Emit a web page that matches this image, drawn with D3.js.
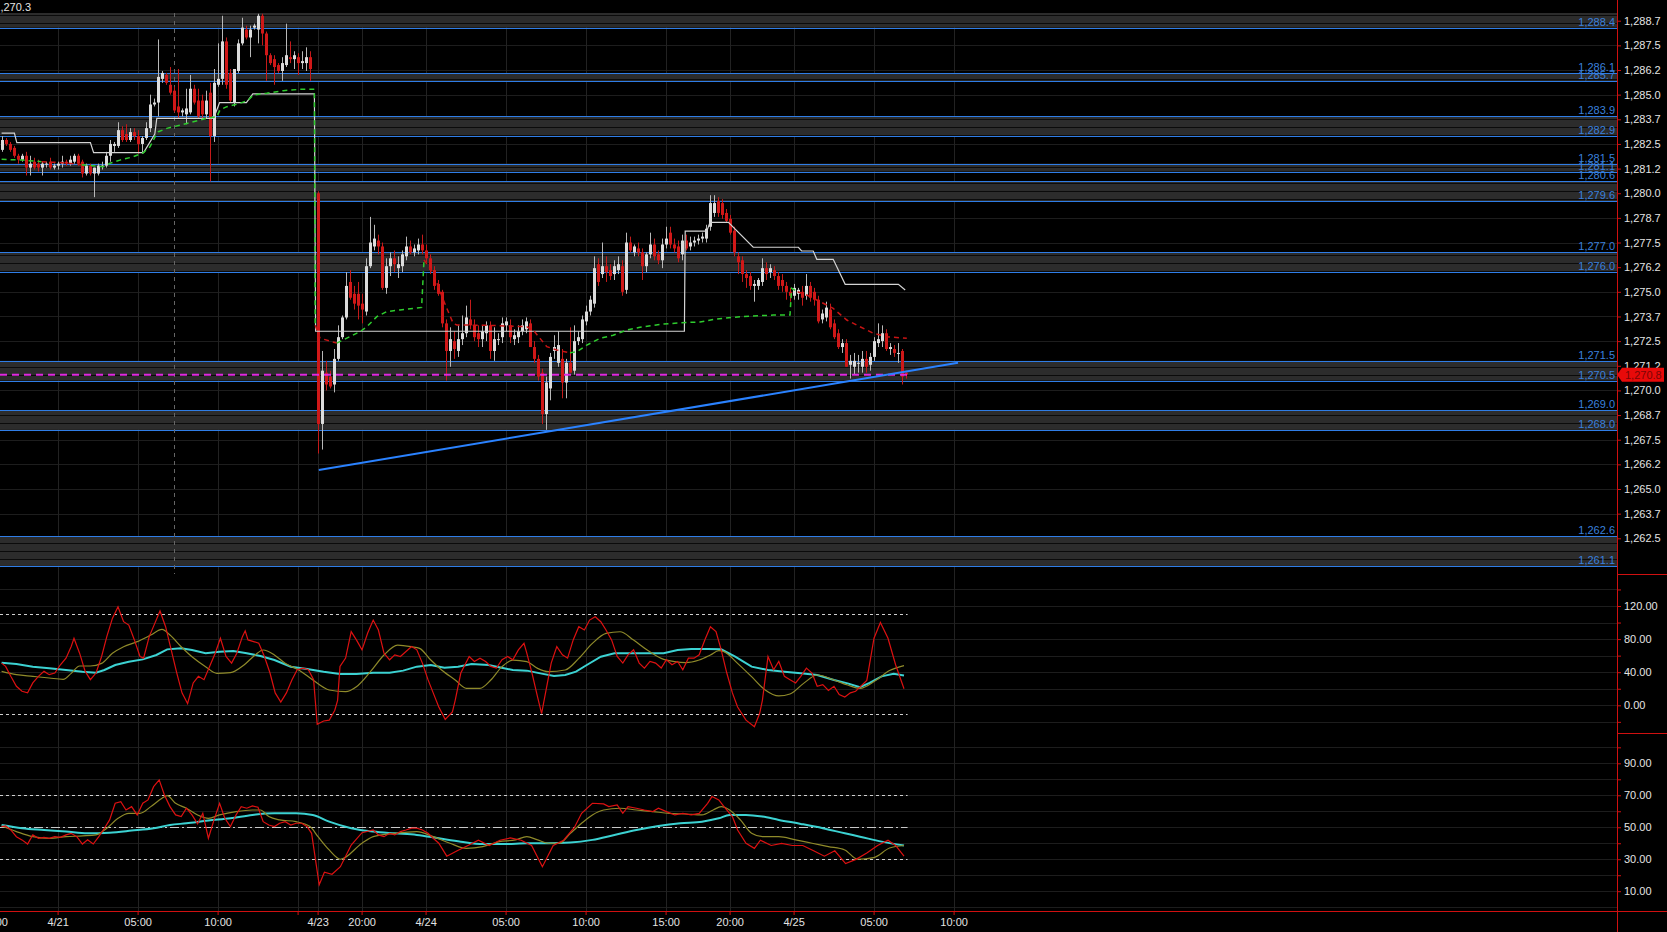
<!DOCTYPE html>
<html>
<head>
<meta charset="utf-8">
<script src="https://cdn.jsdelivr.net/npm/d3@7"></script>
<style>
  body { margin: 0; background: #000; overflow: hidden; }
  text { font-family: "Liberation Sans", Arial, sans-serif; font-size: 11px; }
</style>
</head>
<body>
<svg id="chart"></svg>
<script>
// ---- data ----
// bars are 15 minutes, placed on a slot index (sessions leave gaps)
var sessionStart = [0, 79, 171];
var sessionBars = [78, 92, 56];

var opens = [
  1282.2,1282.7,1282.5,1282.3,1281.9,1281.7,1281.9,1281.3,1281.6,1281.5,
  1281.3,1281.5,1281.6,1281.3,1281.4,1281.5,1281.6,1281.5,1281.6,1281.9,
  1281.6,1281.0,1281.4,1281.0,1281.0,1281.4,1281.4,1281.9,1282.4,1282.4,
  1283.2,1283.0,1282.7,1283.1,1282.9,1282.5,1282.8,1283.3,1284.5,1284.6,
  1285.8,1286.0,1285.5,1285.2,1284.4,1284.1,1284.0,1284.1,1285.3,1284.7,
  1284.7,1284.0,1285.1,1282.9,1285.5,1285.8,1287.7,1286.1,1284.6,1286.2,
  1287.6,1288.3,1287.9,1288.4,1288.3,1289.0,1288.1,1287.0,1286.8,1286.5,
  1286.2,1286.5,1286.9,1286.8,1286.9,1286.6,1286.6,1286.9,
  1280.0,1268.3,1270.9,1270.7,1270.3,1271.6,1272.7,1273.7,1275.5,1274.9,
  1274.9,1274.4,1274.0,1276.3,1277.3,1277.6,1277.3,1275.2,1276.3,1276.7,
  1276.2,1276.3,1276.8,1277.3,1277.0,1277.1,1277.4,1277.1,1276.7,1276.1,
  1275.4,1275.0,1273.4,1272.0,1272.5,1272.0,1272.6,1272.9,1273.6,1273.3,
  1272.9,1272.6,1272.9,1273.3,1272.0,1272.6,1272.7,1273.3,1273.3,1272.6,
  1272.7,1273.0,1273.1,1273.4,1272.2,1271.6,1270.9,1268.8,1270.1,1272.0,
  1271.4,1271.6,1270.4,1271.4,1271.0,1272.5,1272.6,1273.5,1274.0,1274.4,
  1276.4,1275.9,1276.3,1276.1,1275.9,1276.1,1276.3,1275.1,1277.5,1277.0,
  1277.2,1277.0,1276.3,1276.9,1277.4,1276.9,1276.6,1277.4,1278.0,1277.4,
  1277.3,1276.9,
  1277.6,1277.3,1277.5,1277.6,1277.7,1277.7,1278.3,1279.0,1279.6,1279.5,
  1279.0,1278.7,1278.1,1276.8,1276.6,1275.9,1275.8,1275.3,1275.3,1275.5,
  1276.2,1276.0,1276.1,1275.8,1275.6,1275.3,1275.0,1274.8,1274.9,1275.0,
  1274.8,1275.3,1275.0,1274.6,1273.6,1273.7,1274.1,1273.4,1272.9,1272.2,
  1272.4,1271.3,1271.2,1271.4,1271.2,1271.6,1271.3,1271.7,1272.4,1272.5,
  1272.9,1272.1,1272.1,1271.9,1272.0,1270.9
];
var highs = [
  1282.9,1282.8,1282.6,1282.4,1282.0,1282.0,1282.1,1281.9,1281.8,1281.7,
  1281.6,1281.6,1281.8,1281.5,1281.6,1281.9,1281.7,1281.9,1282.0,1282.0,
  1281.7,1281.5,1281.5,1281.3,1281.5,1281.6,1282.1,1282.7,1282.6,1283.6,
  1283.4,1283.5,1283.3,1283.3,1283.2,1282.9,1283.6,1285.0,1284.8,1287.8,
  1286.2,1286.1,1286.4,1285.4,1286.3,1284.3,1285.3,1286.0,1285.5,1285.3,
  1285.0,1285.2,1285.6,1286.3,1287.6,1289.0,1287.9,1286.3,1286.3,1287.8,
  1288.9,1288.5,1288.5,1288.6,1289.1,1289.1,1288.2,1287.1,1287.0,1286.6,
  1286.9,1288.6,1287.7,1287.2,1287.1,1287.2,1287.4,1287.2,
  1280.1,1272.0,1271.5,1271.0,1272.1,1273.3,1273.8,1276.0,1276.1,1275.3,
  1275.5,1274.9,1276.7,1278.8,1278.4,1277.9,1277.5,1276.7,1277.0,1277.1,
  1276.8,1277.1,1277.8,1277.6,1277.4,1277.7,1277.9,1277.4,1276.9,1276.3,
  1275.6,1275.1,1273.6,1273.2,1273.0,1273.3,1273.8,1274.3,1274.6,1273.6,
  1273.3,1273.3,1273.5,1273.5,1273.2,1272.9,1273.7,1273.7,1273.6,1273.1,
  1273.3,1273.6,1273.7,1273.6,1272.5,1271.8,1271.1,1270.7,1271.9,1272.8,
  1273.0,1272.1,1271.6,1273.2,1273.3,1273.0,1273.8,1274.3,1274.8,1276.8,
  1276.7,1277.5,1276.8,1276.4,1276.6,1276.8,1276.6,1278.0,1277.8,1277.4,
  1277.5,1277.2,1277.0,1278.0,1277.7,1277.1,1277.7,1278.3,1278.3,1277.7,
  1277.6,1277.9,
  1277.9,1277.8,1277.8,1277.9,1278.0,1278.4,1279.9,1279.9,1279.8,1279.7,
  1279.2,1278.9,1278.3,1277.0,1276.8,1276.1,1276.0,1275.6,1275.7,1276.7,
  1276.5,1276.4,1276.3,1276.0,1275.9,1275.5,1275.2,1275.4,1275.2,1275.3,
  1275.9,1275.5,1275.2,1274.8,1274.1,1274.5,1274.4,1273.6,1273.1,1272.6,
  1272.6,1271.8,1271.9,1271.8,1272.0,1272.0,1271.9,1272.7,1273.4,1273.3,
  1273.1,1272.4,1272.3,1272.4,1272.1,1271.0
];
var lows = [
  1282.1,1282.4,1282.1,1281.8,1281.5,1281.6,1280.9,1280.9,1281.2,1281.1,
  1280.9,1281.3,1281.2,1281.2,1281.2,1281.3,1281.4,1281.4,1281.5,1281.4,
  1280.8,1280.9,1280.9,1279.8,1280.9,1281.2,1281.3,1281.6,1282.1,1282.3,
  1282.6,1282.6,1282.6,1282.7,1282.0,1282.0,1282.7,1283.1,1284.4,1283.9,
  1285.6,1285.5,1285.0,1284.1,1283.8,1283.9,1283.5,1284.0,1284.5,1283.8,
  1283.8,1283.8,1280.6,1282.6,1285.4,1285.5,1285.3,1284.6,1284.4,1286.1,
  1287.5,1287.8,1286.9,1288.3,1287.6,1287.5,1285.7,1286.5,1285.5,1286.1,
  1285.7,1286.4,1286.6,1286.3,1286.0,1286.3,1286.2,1285.7,
  1266.8,1267.0,1270.0,1270.1,1269.9,1271.5,1272.6,1273.6,1274.6,1274.1,
  1273.6,1273.4,1273.8,1276.2,1277.1,1276.9,1275.1,1274.9,1275.8,1276.0,
  1275.7,1276.0,1276.6,1276.9,1276.8,1276.9,1276.9,1276.5,1275.9,1275.1,
  1274.8,1273.2,1270.5,1271.2,1271.6,1271.7,1272.3,1272.7,1273.1,1272.5,
  1272.2,1272.2,1272.5,1271.6,1271.5,1272.3,1272.4,1273.0,1272.4,1272.3,
  1272.4,1272.8,1272.9,1272.2,1271.4,1270.5,1268.3,1268.0,1269.5,1271.6,
  1271.2,1269.6,1269.6,1270.9,1270.8,1272.3,1272.4,1273.3,1273.8,1274.2,
  1275.3,1275.7,1275.5,1275.6,1275.6,1275.9,1274.8,1274.9,1277.0,1276.8,
  1276.8,1275.6,1276.0,1276.7,1276.6,1276.4,1276.2,1277.2,1277.2,1277.0,
  1276.5,1276.6,
  1277.1,1277.1,1277.3,1277.4,1277.5,1277.5,1278.1,1278.8,1278.8,1278.7,
  1278.5,1277.9,1276.8,1275.9,1275.5,1275.2,1275.1,1274.5,1275.1,1275.3,
  1275.6,1275.7,1275.6,1275.1,1275.0,1274.6,1274.5,1274.6,1274.6,1274.3,
  1274.6,1274.5,1274.3,1273.4,1273.4,1273.5,1273.1,1272.6,1272.1,1271.9,
  1271.2,1270.6,1270.8,1270.9,1270.9,1270.9,1271.0,1271.5,1272.2,1272.2,
  1272.0,1271.8,1271.7,1271.4,1270.3,1270.6
];
var closes = [
  1282.7,1282.5,1282.2,1281.9,1281.7,1281.9,1281.3,1281.5,1281.3,1281.3,
  1281.5,1281.5,1281.3,1281.4,1281.5,1281.6,1281.5,1281.7,1281.9,1281.5,
  1281.0,1281.4,1281.0,1281.3,1281.4,1281.4,1281.9,1282.5,1282.5,1283.2,
  1282.7,1282.7,1283.1,1282.9,1282.5,1282.8,1283.3,1284.5,1284.6,1285.9,
  1286.1,1285.6,1285.1,1284.2,1284.1,1284.2,1284.3,1285.3,1284.6,1283.9,
  1284.0,1284.7,1282.9,1285.6,1285.8,1287.7,1285.5,1284.7,1286.3,1287.6,
  1288.4,1287.9,1288.3,1288.5,1289.0,1288.1,1287.0,1286.6,1286.4,1286.2,
  1286.6,1287.0,1286.8,1287.0,1286.6,1286.7,1286.9,1286.3,
  1268.3,1271.0,1270.3,1270.2,1271.6,1272.7,1273.7,1275.3,1274.7,1274.4,
  1274.3,1274.1,1276.3,1277.5,1277.7,1277.3,1275.2,1276.3,1276.7,1276.4,
  1276.4,1276.9,1277.3,1277.0,1277.2,1277.4,1277.1,1276.7,1276.1,1275.3,
  1274.9,1273.4,1272.0,1272.6,1272.1,1272.6,1272.9,1273.7,1273.3,1272.7,
  1272.6,1273.0,1273.3,1272.0,1272.6,1272.6,1273.4,1273.5,1272.7,1272.8,
  1273.0,1273.3,1273.5,1272.2,1271.6,1270.7,1268.8,1270.4,1271.7,1272.2,
  1272.3,1270.4,1271.4,1270.9,1272.5,1272.7,1273.6,1274.0,1274.6,1276.2,
  1275.5,1276.3,1276.0,1275.8,1276.3,1276.4,1275.0,1277.5,1277.1,1277.3,
  1277.0,1276.3,1276.9,1277.4,1276.8,1276.6,1277.4,1277.7,1277.4,1277.2,
  1276.7,1277.6,
  1277.2,1277.5,1277.6,1277.7,1277.8,1278.2,1279.5,1279.5,1279.0,1278.9,
  1278.6,1278.0,1277.0,1276.5,1275.9,1275.7,1275.3,1275.4,1275.6,1276.2,
  1275.9,1276.2,1275.8,1275.3,1275.3,1275.0,1274.8,1275.2,1275.1,1274.7,
  1275.3,1274.7,1274.6,1273.5,1273.9,1274.2,1273.2,1272.7,1272.2,1272.4,
  1271.2,1271.5,1271.5,1271.4,1271.6,1271.2,1271.7,1272.5,1272.6,1272.9,
  1272.1,1272.2,1271.9,1271.9,1270.7,1270.8
];

// support / resistance levels and shaded zones
var levelPrices = [1288.4,1286.1,1285.7,1283.9,1282.9,1281.5,1281.1,1280.6,1279.6,
                   1277.0,1276.0,1271.5,1270.5,1269.0,1268.0,1262.6,1261.1];
var zoneHigh = [1289.2,1286.1,1283.9,1281.5,1280.6,1277.0,1271.5,1269.0,1262.6];
var zoneLow  = [1288.4,1285.7,1282.9,1281.1,1279.6,1276.0,1270.5,1268.0,1261.1];

// white step line (slot, price)
var stopLine = [[0,1283.05],[3.2,1283.05],[3.8,1282.57],[22.2,1282.57],[23,1282.06],[35.5,1282.06],
  [38.3,1283.0],[38.8,1283.8],[53,1283.8],[54.5,1284.6],[61.2,1284.6],[62.8,1285.04],[78.2,1285.04],
  [78.5,1273.0],[170.7,1273.0],[170.9,1278.08],[176.3,1278.08],[177.1,1278.52],[181.7,1278.52],
  [187.9,1277.26],[199.2,1277.26],[200,1277.07],[202.9,1277.07],[203.8,1276.65],[207.9,1276.65],
  [210.9,1275.38],[224.2,1275.38],[225.9,1275.09]];

// dashed average line (slot, price, side of the segment that starts here)
var vwapLine = [[0,1281.72,"g"],[5,1281.68,"g"],[10,1281.6,"r"],[15,1281.55,"r"],[20,1281.45,"g"],
  [25.4,1281.34,"g"],[27.1,1281.52,"g"],[29.6,1281.68,"g"],[32.9,1281.85,"g"],[35.4,1282.05,"g"],
  [37.1,1282.36,"g"],[38.4,1282.87,"g"],[39.2,1283.12,"g"],[41.3,1283.29,"g"],[46.3,1283.54,"g"],
  [51.3,1283.8,"g"],[53.8,1283.88,"g"],[54.6,1284.22,"g"],[56.3,1284.39,"g"],[59.6,1284.56,"g"],
  [61.7,1284.73,"g"],[62.9,1284.98,"g"],[66.3,1285.07,"g"],[70.4,1285.2,"g"],[74.6,1285.27,"g"],
  [78.2,1285.27,"g"],[78.4,1273.3,"r"],[79.6,1272.65,"r"],[83.8,1272.4,"g"],[86.3,1272.65,"g"],
  [89.6,1272.98,"g"],[91.3,1273.23,"g"],[93.8,1273.74,"g"],[96.3,1274.0,"g"],[99.6,1274.08,"g"],
  [102.9,1274.16,"g"],[105.0,1274.21,"g"],[105.6,1276.62,"r"],[107.9,1275.94,"r"],[110.4,1274.6,"r"],
  [112.9,1273.4,"r"],[113.8,1273.32,"r"],[122,1273.3,"r"],[131.3,1273.23,"r"],[132.9,1273.06,"r"],
  [134.6,1272.64,"r"],[136.3,1272.22,"r"],[138.8,1272.05,"r"],[142.1,1271.91,"g"],[143.8,1271.96,"g"],
  [146.3,1272.3,"g"],[149.6,1272.64,"g"],[152.9,1272.8,"g"],[156.3,1273.06,"g"],[159.6,1273.2,"g"],
  [164.6,1273.35,"g"],[169.6,1273.43,"g"],[174.6,1273.47,"g"],[177.9,1273.6,"g"],[184.6,1273.74,"g"],
  [192.9,1273.82,"g"],[197.1,1273.82,"g"],[197.5,1275.18,"g"],[199,1275.0,"r"],[201.3,1274.84,"r"],
  [205.4,1274.42,"r"],[207.9,1274.16,"r"],[211.3,1273.57,"r"],[214.6,1273.23,"r"],[217.9,1272.9,"r"],
  [221.3,1272.72,"r"],[226.3,1272.64,"r"]];

var trendLine = [[79.3,1265.96],[239.1,1271.4]];
var lastPrice = 1270.8;
var headerValue = "1,270.3";

// oscillator panel (slot, value)
var oscFast = [[0,51],[1.0,47],[2.3,35],[3.7,23],[5.1,17],[6.5,15],[7.8,27],[9.2,35],[10.6,41],[11.9,37],
  [13.3,39],[14.7,49],[16.1,57],[17.4,71],[18.1,81],[19.5,63],[20.9,41],[22.2,31],[23.6,39],[25.0,59],
  [26.3,83],[27.7,105],[29.1,119],[30.5,101],[31.8,97],[33.2,79],[34.6,59],[35.5,57],[36.9,83],[38.3,99],
  [39.6,114],[41.0,95],[42.4,67],[43.8,39],[45.1,15],[46.5,2],[47.9,27],[49.2,35],[50.6,31],[52.0,47],
  [53.4,63],[54.7,81],[56.1,59],[57.5,51],[58.8,63],[60.2,83],[60.9,90],[61.6,79],[63.0,77],[64.3,75],
  [65.7,59],[67.1,39],[68.4,15],[69.8,4],[71.2,15],[72.6,31],[73.9,43],[75.3,45],[76.7,43],[78.0,31],
  [78.9,-23],[80.5,-19],[81.9,-18],[83.3,-6],[84.0,6],[84.6,47],[86.0,57],[87.4,89],[88.7,79],[90.1,67],
  [91.5,87],[92.9,103],[94.2,91],[95.6,63],[97.0,55],[98.3,61],[99.7,59],[101.1,65],[102.5,71],[103.8,67],
  [105.2,51],[106.6,31],[107.9,15],[109.3,-2],[110.9,-17],[112.7,-8],[113.4,6],[114.8,39],[116.9,59],[118.2,53],
  [119.6,57],[121.0,53],[122.3,47],[123.7,45],[125.1,55],[126.5,59],[127.8,55],[129.2,67],[130.6,75],[131.3,63],
  [132.6,39],[134.0,10],[135.0,-10],[136.1,18],[137.4,51],[138.8,71],[140.2,61],[141.5,57],[142.9,79],[144.3,95],
  [145.7,91],[147.0,103],[148.4,107],[149.8,101],[151.1,91],[152.5,79],[153.9,59],[155.3,51],[156.6,61],[158.0,67],
  [159.4,51],[160.7,45],[162.1,53],[163.5,51],[164.9,45],[166.2,55],[167.6,49],[169.0,53],[170.3,43],[171.7,57],
  [173.1,57],[174.4,61],[175.8,79],[177.2,95],[178.6,89],[179.9,67],[181.3,39],[182.7,15],[184.0,-2],[186.1,-18],
  [188.2,-26],[189.5,-10],[190.2,6],[191.6,59],[193.0,43],[194.3,53],[195.7,35],[197.1,31],[198.5,27],[199.8,35],
  [201.2,45],[202.6,39],[203.9,23],[205.3,25],[206.7,18],[208.1,23],[209.4,13],[210.8,10],[212.2,15],[213.5,17],
  [216.3,30],[218.1,81],[219.7,100],[221.6,81],[223.5,49],[225.6,20]];
var oscSignal = [[0,41],[3.7,37],[7.8,35],[11.9,33],[15.4,31.4],[17.4,38.6],[19.5,47.5],[22.2,47.5],[25.0,50.7],
  [27.7,62.8],[30.5,70.8],[33.9,76.9],[37.3,84.9],[40.1,91.7],[42.1,84.9],[44.9,70.8],[47.6,58.7],[51.0,46.7],
  [53.8,38.6],[57.2,39.4],[60.6,48.7],[63.4,60.8],[65.4,66.8],[68.2,60.8],[70.9,50.7],[74.3,42.7],[77.8,30.6],
  [81.9,18.5],[86.0,16.5],[88.7,22.5],[92.2,40.6],[95.6,60.8],[99.0,72.8],[102.5,70.8],[104.5,68.8],[107.3,54.7],
  [110.0,42.7],[113.4,30.6],[116.2,20.5],[119.6,20.5],[122.3,30.6],[125.1,46.7],[127.8,54.7],[131.3,52.7],
  [134.0,44.6],[136.7,40.6],[140.9,42.7],[144.3,56.7],[147.7,74.8],[151.1,86.9],[154.6,88.9],[158.0,78.8],
  [161.4,66.8],[164.9,56.7],[168.3,52.7],[171.0,51.5],[174.4,54.7],[177.2,60.8],[179.3,66.0],[180.6,64.8],
  [184.0,50.7],[187.5,34.6],[190.9,18.5],[194.3,11.3],[197.1,13.7],[200.5,26.5],[203.9,36.6],[208.1,30.6],
  [211.5,24.5],[214.6,20.5],[218.5,30],[222,42],[225.6,48]];
var oscSlow = [[0,51.5],[3.7,49.9],[7.8,46.7],[11.9,44.7],[16.1,42.7],[20.2,40.6],[23.6,39.4],[25.7,42.7],
  [28.4,48.7],[31.8,52.7],[35.3,55.5],[38.7,60.8],[41.4,67.6],[44.9,68.8],[47.6,66.8],[51.0,62.8],[54.5,64.8],
  [57.9,65.6],[61.3,62.8],[64.7,59.6],[68.2,54.7],[72.3,46.7],[76.4,43.9],[80.5,40.6],[84.6,37.8],[88.7,37.8],
  [92.9,39.4],[97.0,39.4],[100.4,41.9],[103.8,46.7],[107.3,48.7],[110.7,45.5],[114.1,46.7],[117.5,49.9],
  [121.7,48.7],[124.4,45.9],[127.8,42.7],[131.3,41.9],[134.7,38.6],[138.1,35.4],[140.9,36.6],[143.6,40.6],
  [146.3,48.7],[149.8,58.7],[153.2,62.8],[157.3,62.8],[161.4,62.8],[165.5,62.8],[169.0,66.8],[172.4,68.0],
  [176.5,68.0],[179.9,67.6],[183.4,58.7],[187.5,46.7],[191.6,42.7],[195.7,40.6],[199.8,38.6],[203.9,36.6],
  [208.1,30.6],[211.5,26.5],[214.6,22],[217,27],[220,35],[223,38],[225.6,36]];

// strength panel (slot, value)
var rsiFast = [[0,50.4],[1.0,50.8],[2.3,48.3],[3.7,44.1],[5.1,42.1],[6.5,39.5],[7.8,45.2],[9.2,43.1],[10.6,43.7],
  [11.9,43.1],[13.3,44.1],[14.7,43.7],[16.1,45.2],[17.4,46.2],[18.8,44.1],[20.2,39.5],[21.5,42.1],[22.9,39.5],
  [24.3,44.1],[25.7,49.4],[27.0,54.6],[28.4,65.0],[29.8,66.0],[31.1,60.8],[32.5,62.9],[33.9,57.7],[35.3,65.0],
  [36.6,67.1],[38.0,75.4],[39.4,79.6],[40.7,70.2],[42.1,62.9],[43.5,57.7],[44.9,56.7],[46.2,61.9],[47.6,57.7],
  [49.0,52.1],[50.3,58.7],[51.7,43.1],[53.1,54.6],[54.5,65.0],[55.8,55.6],[57.2,50.4],[58.6,57.7],[59.9,62.9],
  [61.3,61.9],[62.7,63.3],[64.1,62.5],[65.4,53.5],[66.8,51.4],[68.2,50.4],[69.5,52.5],[70.9,53.5],[72.3,51.4],
  [73.6,52.5],[75.0,52.5],[76.4,50.4],[77.5,46.2],[79.4,14.0],[80.7,21.9],[82.6,20.6],[84.7,25.3],[87.4,38.9],
  [90.1,46.6],[92.9,48.3],[94.2,45.2],[95.6,44.1],[97.0,46.2],[98.3,45.2],[99.7,47.3],[101.1,48.3],[102.5,49.4],
  [103.8,49.4],[105.2,48.3],[106.6,46.2],[107.9,43.1],[109.3,40.0],[111.3,31.9],[113.9,35.3],[116.6,38.6],
  [119.2,41.9],[121.9,38.6],[124.6,41.9],[127.2,43.3],[129.9,41.9],[132.5,38.6],[135.2,25.3],[137.9,38.6],
  [140.5,41.9],[143.2,49.9],[145.0,58.7],[147.7,65.0],[150.5,64.6],[151.8,62.9],[153.9,64.0],[155.3,58.7],
  [156.6,62.9],[158.7,61.9],[160.7,60.8],[162.8,59.8],[164.2,61.9],[166.2,59.8],[168.3,57.7],[170.3,58.7],
  [172.4,57.7],[174.4,58.7],[176.5,65.0],[177.6,69.2],[179.3,67.1],[180.6,62.9],[182.7,56.7],[184.0,48.3],
  [186.1,40.0],[188.2,36.8],[189.7,41.9],[192.4,38.6],[195.0,39.9],[197.7,38.6],[200.3,38.6],[203.0,35.3],
  [205.7,31.9],[208.3,35.3],[211.0,27.3],[213.6,29.9],[216.3,33.9],[219.0,38.6],[221.6,41.9],[223.5,38.6],
  [225.6,31.9]];
var rsiSignal = [[0,50.8],[3.7,47.3],[7.8,44.1],[11.9,43.1],[16.1,44.1],[20.2,44.6],[23.6,45.2],[26.3,49.4],
  [29.1,55.6],[31.8,58.7],[34.6,58.7],[37.3,62.9],[40.1,68.1],[41.4,69.8],[43.5,65.0],[46.2,61.9],[49.0,57.7],
  [51.7,55.6],[54.5,57.7],[58.6,59.8],[62.7,60.8],[64.7,60.8],[66.8,56.7],[69.5,54.6],[73.6,53.5],[77.1,50.4],
  [79.1,44.1],[81.9,35.8],[84.7,30],[90.1,40.0],[92.9,44.1],[98.3,46.2],[103.8,47.3],[107.9,44.1],[112.1,40.0],
  [116.2,36.8],[120.3,37.9],[124.4,41.0],[128.5,42.1],[131.3,44.1],[134.0,42.1],[136.7,40.0],[139.5,40.0],
  [142.2,46.2],[145.0,52.5],[147.7,57.7],[150.5,60.8],[154.6,61.9],[158.7,60.8],[162.8,59.8],[166.9,58.7],
  [171.0,58.3],[175.1,57.7],[177.9,60.8],[179.9,62.9],[182.0,60.8],[184.7,54.6],[187.5,46.2],[190.2,44.1],
  [194.3,44.1],[198.5,42.1],[202.6,40.0],[206.7,37.9],[210.8,35.8],[214,30],[218,31],[222,37],[225.6,38.6]];
var rsiSlow = [[0,51.4],[5.1,49.4],[10.6,48.3],[16.1,47.3],[21.5,46.2],[27.0,46.6],[32.5,47.9],[38.0,49.4],
  [42.1,51.4],[46.2,52.5],[51.7,54.2],[57.2,55.6],[62.7,57.7],[68.2,58.7],[73.6,58.7],[77.8,57.7],[81.9,53.5],
  [87.4,49.4],[92.9,47.3],[98.3,46.2],[103.8,45.2],[109.3,43.1],[114.8,41.0],[120.3,39.5],[125.8,39.5],
  [131.3,40.0],[136.7,40.0],[142.2,40.4],[147.7,42.1],[153.2,45.2],[158.7,48.3],[164.2,50.8],[169.7,52.5],
  [175.1,53.5],[179.3,55.6],[182.0,57.7],[186.1,57.7],[190.2,56.7],[194.3,54.6],[199.8,52.1],[205.3,49.4],
  [210.8,46.2],[214.6,44.1],[220,41],[225.6,38.6]];

var oscLevels = [110, -10];
var rsiLevels = [70, 30];
var rsiMidLevel = 50;

// axis ticks
var priceTicks = [1262.5,1263.75,1265,1266.25,1267.5,1268.75,1270,1271.25,1272.5,1273.75,1275,
                  1276.25,1277.5,1278.75,1280,1281.25,1282.5,1283.75,1285,1286.25,1287.5,1288.75];
var oscTicks = [-20,0,20,40,60,80,100,120,140];
var oscLabels = [0,40,80,120];
var rsiTicks = [0,10,20,30,40,50,60,70,80,90,100];
var rsiLabels = [10,30,50,70,90];
var timeTicks = [-2,14,34,54,74,79,90,106,126,146,166,182,198,218,238];
var timeLabels = ["20:00","4/21","05:00","10:00","","4/23","20:00","4/24","05:00","10:00","15:00","20:00","4/25","05:00","10:00"];
var dayMarkSlot = 43;

// ---- layout ----
var svgWidth = 1667;
var svgHeight = 932;
var axisX = 1617;
var mainTop = 13, mainBottom = 574, oscBottom = 733, timeAxisY = 911;

var svg = d3.select("#chart")
  .attr("width", svgWidth)
  .attr("height", svgHeight);

svg.append("rect").attr("width", svgWidth).attr("height", svgHeight).attr("fill", "#000");

var x = d3.scaleLinear().domain([0, 400]).range([1.6, 1601.6]);
var yPrice = d3.scaleLinear().domain([1262.5, 1288.75]).range([538.3, 20.7]);
var yOsc = d3.scaleLinear().domain([0, 120]).range([705.3, 606]);
var yRsi = d3.scaleLinear().domain([10, 90]).range([891.2, 763.3]);

var defs = svg.append("defs");
function clip(id, top, bottom) {
  defs.append("clipPath").attr("id", id)
    .append("rect").attr("x", 0).attr("y", top).attr("width", axisX).attr("height", bottom - top);
}
clip("clipMain", mainTop, mainBottom);
clip("clipOsc", mainBottom, oscBottom);
clip("clipRsi", oscBottom, timeAxisY);

var pat = defs.append("pattern").attr("id", "zoneFill")
  .attr("patternUnits", "userSpaceOnUse").attr("width", 8).attr("height", 8);
pat.append("rect").attr("width", 8).attr("height", 8).attr("fill", "#2c2c2c");
pat.append("rect").attr("y", 7).attr("width", 8).attr("height", 1).attr("fill", "#0b0b0b");

// ---- grid ----
var grid = svg.append("g");
grid.selectAll(".hp").data(priceTicks).enter().append("line")
  .attr("x1", 0).attr("x2", axisX)
  .attr("y1", d => Math.round(yPrice(d)) + 0.5).attr("y2", d => Math.round(yPrice(d)) + 0.5)
  .attr("stroke", "#1d1d1d");
grid.selectAll(".ho").data(oscTicks).enter().append("line")
  .attr("x1", 0).attr("x2", axisX)
  .attr("y1", d => Math.round(yOsc(d)) + 0.5).attr("y2", d => Math.round(yOsc(d)) + 0.5)
  .attr("stroke", "#1d1d1d");
grid.selectAll(".hr").data(rsiTicks).enter().append("line")
  .attr("x1", 0).attr("x2", axisX)
  .attr("y1", d => Math.round(yRsi(d)) + 0.5).attr("y2", d => Math.round(yRsi(d)) + 0.5)
  .attr("stroke", "#1d1d1d");
grid.selectAll(".vt").data(timeTicks).enter().append("line")
  .attr("x1", d => Math.round(x(d)) + 0.5).attr("x2", d => Math.round(x(d)) + 0.5)
  .attr("y1", mainTop).attr("y2", timeAxisY)
  .attr("stroke", "#222");

// ---- main panel ----
var main = svg.append("g").attr("clip-path", "url(#clipMain)");

main.selectAll(".zone").data(zoneHigh).enter().append("rect")
  .attr("x", 0).attr("width", axisX)
  .attr("y", d => yPrice(d))
  .attr("height", (d, i) => yPrice(zoneLow[i]) - yPrice(d))
  .attr("fill", "url(#zoneFill)");

main.selectAll(".lvl").data(levelPrices).enter().append("line")
  .attr("x1", 0).attr("x2", axisX)
  .attr("y1", d => Math.round(yPrice(d)) + 0.5).attr("y2", d => Math.round(yPrice(d)) + 0.5)
  .attr("stroke", "#2f7de6").attr("stroke-width", 1.2);

main.selectAll(".lvlText").data(levelPrices).enter().append("text")
  .attr("x", axisX - 2).attr("y", d => yPrice(d) - 2)
  .attr("text-anchor", "end").attr("fill", "#3a80dc")
  .text(d => d3.format(",.1f")(d));

main.append("line")
  .attr("x1", Math.round(x(dayMarkSlot)) + 0.5).attr("x2", Math.round(x(dayMarkSlot)) + 0.5)
  .attr("y1", mainTop).attr("y2", mainBottom)
  .attr("stroke", "#666").attr("stroke-dasharray", "4,4");

// candles
var candles = [];
sessionStart.forEach(function(start, s) {
  var offset = d3.sum(sessionBars.slice(0, s));
  for (var i = 0; i < sessionBars[s]; i++) {
    var k = offset + i;
    candles.push({slot: start + i, o: opens[k], h: highs[k], l: lows[k], c: closes[k]});
  }
});

var candleG = main.append("g");
candleG.selectAll(".wick").data(candles).enter().append("line")
  .attr("x1", d => Math.round(x(d.slot)) + 0.5).attr("x2", d => Math.round(x(d.slot)) + 0.5)
  .attr("y1", d => yPrice(d.h)).attr("y2", d => yPrice(d.l))
  .attr("stroke", d => d.c >= d.o ? "#b8b8b8" : "#c41a1a");
candleG.selectAll(".body").data(candles).enter().append("rect")
  .attr("x", d => Math.round(x(d.slot)) - 1)
  .attr("width", 3)
  .attr("y", d => yPrice(Math.max(d.o, d.c)))
  .attr("height", d => Math.max(1, Math.abs(yPrice(d.o) - yPrice(d.c))))
  .attr("fill", d => d.c >= d.o ? "#dcdcdc" : "#d01818");

// white step line
main.append("path")
  .datum(stopLine)
  .attr("fill", "none").attr("stroke", "#d4d4d4").attr("stroke-width", 1.2)
  .attr("d", d3.line().x(d => x(d[0])).y(d => yPrice(d[1])));

// dashed average line, coloured by side
var runs = [];
for (var i = 0; i < vwapLine.length - 1; i++) {
  var a = vwapLine[i], b = vwapLine[i + 1];
  var run = runs[runs.length - 1];
  if (run && run.side === a[2]) run.pts.push(b);
  else runs.push({side: a[2], pts: [a, b]});
}
main.selectAll(".vwap").data(runs).enter().append("path")
  .attr("fill", "none")
  .attr("stroke", d => d.side === "g" ? "#2ecc2e" : "#c81414")
  .attr("stroke-width", 1.5)
  .attr("stroke-dasharray", "5,4")
  .attr("d", d => d3.line().x(p => x(p[0])).y(p => yPrice(p[1]))(d.pts));

// last price dashed line
main.append("line")
  .attr("x1", 0).attr("x2", x(227))
  .attr("y1", yPrice(lastPrice)).attr("y2", yPrice(lastPrice))
  .attr("stroke", "#e028e0").attr("stroke-width", 2).attr("stroke-dasharray", "7,5");

// trend line
main.append("path")
  .datum(trendLine)
  .attr("fill", "none").attr("stroke", "#2a82ff").attr("stroke-width", 2)
  .attr("d", d3.line().x(d => x(d[0])).y(d => yPrice(d[1])));

// ---- oscillator panel ----
var osc = svg.append("g").attr("clip-path", "url(#clipOsc)");
osc.selectAll(".lv").data(oscLevels).enter().append("line")
  .attr("x1", 0).attr("x2", x(226.5))
  .attr("y1", d => Math.round(yOsc(d)) + 0.5).attr("y2", d => Math.round(yOsc(d)) + 0.5)
  .attr("stroke", "#cfcfcf").attr("stroke-dasharray", "3,3");
var lineOsc = d3.line().x(d => x(d[0])).y(d => yOsc(d[1]));
osc.append("path").datum(oscSlow).attr("fill", "none").attr("stroke", "#3cd2d2").attr("stroke-width", 2).attr("d", lineOsc);
osc.append("path").datum(oscSignal).attr("fill", "none").attr("stroke", "#8f8a2a").attr("stroke-width", 1.2).attr("d", lineOsc.curve(d3.curveMonotoneX));
osc.append("path").datum(oscFast).attr("fill", "none").attr("stroke", "#dd1111").attr("stroke-width", 1.2)
  .attr("d", d3.line().x(d => x(d[0])).y(d => yOsc(d[1])));

// ---- strength panel ----
var rsi = svg.append("g").attr("clip-path", "url(#clipRsi)");
rsi.selectAll(".lv").data(rsiLevels).enter().append("line")
  .attr("x1", 0).attr("x2", x(226.5))
  .attr("y1", d => Math.round(yRsi(d)) + 0.5).attr("y2", d => Math.round(yRsi(d)) + 0.5)
  .attr("stroke", "#cfcfcf").attr("stroke-dasharray", "3,3");
rsi.append("line")
  .attr("x1", 0).attr("x2", x(226.5))
  .attr("y1", Math.round(yRsi(rsiMidLevel)) + 0.5).attr("y2", Math.round(yRsi(rsiMidLevel)) + 0.5)
  .attr("stroke", "#c8c8c8").attr("stroke-dasharray", "9,3,2,3");
var lineRsi = d3.line().x(d => x(d[0])).y(d => yRsi(d[1]));
rsi.append("path").datum(rsiSlow).attr("fill", "none").attr("stroke", "#3cd2d2").attr("stroke-width", 2)
  .attr("d", lineRsi.curve(d3.curveMonotoneX));
rsi.append("path").datum(rsiSignal).attr("fill", "none").attr("stroke", "#8f8a2a").attr("stroke-width", 1.2)
  .attr("d", lineRsi.curve(d3.curveMonotoneX));
rsi.append("path").datum(rsiFast).attr("fill", "none").attr("stroke", "#dd1111").attr("stroke-width", 1.2)
  .attr("d", d3.line().x(d => x(d[0])).y(d => yRsi(d[1])));

// ---- axes ----
function styleAxis(g) {
  g.select(".domain").remove();
  g.selectAll(".tick line").attr("stroke", "#d01010");
  g.selectAll(".tick text").attr("fill", "#e4e4e4")
    .style("font-family", "Liberation Sans, Arial, sans-serif").style("font-size", "11px");
}

var priceFmt = d => d3.format(",.1f")(Math.floor(d * 10 + 1e-6) / 10);
svg.append("g").attr("transform", "translate(" + axisX + ",0)")
  .call(d3.axisRight(yPrice).tickValues(priceTicks).tickFormat(priceFmt).tickSize(4))
  .call(styleAxis);

svg.append("g").attr("transform", "translate(" + axisX + ",0)")
  .call(d3.axisRight(yOsc).tickValues(oscTicks)
    .tickFormat(d => oscLabels.indexOf(d) >= 0 ? d3.format(".2f")(d) : "").tickSize(4))
  .call(styleAxis);

svg.append("g").attr("transform", "translate(" + axisX + ",0)")
  .call(d3.axisRight(yRsi).tickValues(rsiTicks.filter(d => d > 0))
    .tickFormat(d => rsiLabels.indexOf(d) >= 0 ? d3.format(".2f")(d) : "").tickSize(4))
  .call(styleAxis);

svg.append("g").attr("transform", "translate(0," + timeAxisY + ")")
  .call(d3.axisBottom(x).tickValues(timeTicks).tickFormat((d, i) => timeLabels[i]).tickSize(4))
  .call(styleAxis);

// axis frame lines
svg.append("line").attr("x1", axisX + 0.5).attr("x2", axisX + 0.5).attr("y1", 0).attr("y2", svgHeight)
  .attr("stroke", "#d01010");
svg.append("line").attr("x1", 0).attr("x2", svgWidth).attr("y1", timeAxisY + 0.5).attr("y2", timeAxisY + 0.5)
  .attr("stroke", "#d01010");
[mainBottom, oscBottom].forEach(function(yy) {
  svg.append("line").attr("x1", axisX).attr("x2", svgWidth).attr("y1", yy + 0.5).attr("y2", yy + 0.5)
    .attr("stroke", "#d01010");
});

// last price tag
var ty = yPrice(lastPrice);
svg.append("polygon")
  .attr("points", [[axisX, ty], [axisX + 5, ty - 7], [axisX + 47, ty - 7], [axisX + 47, ty + 7], [axisX + 5, ty + 7]].join(" "))
  .attr("fill", "#e80a0a");
svg.append("text").attr("x", axisX + 8).attr("y", ty + 4)
  .attr("fill", "#7a0505").text(d3.format(",.1f")(lastPrice));

// header value, cut at the left edge like the original
svg.append("text").attr("x", 31).attr("y", 11).attr("text-anchor", "end")
  .attr("fill", "#e4e4e4").text(headerValue);
</script>
</body>
</html>
